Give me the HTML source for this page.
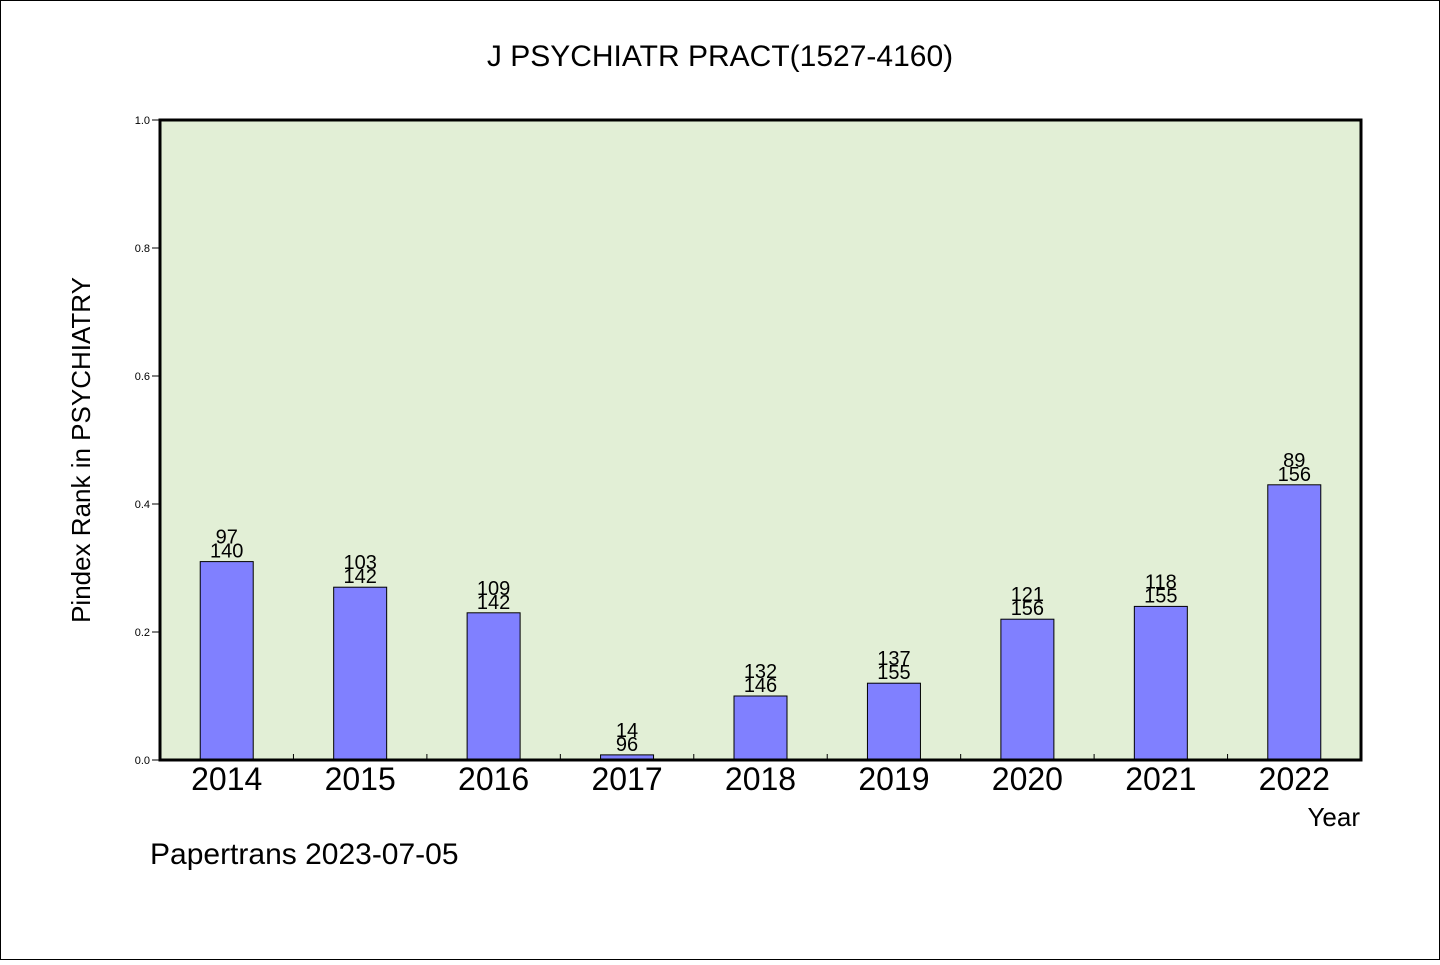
<!DOCTYPE html>
<html><head><meta charset="utf-8"><style>
body{margin:0;background:#fff}
svg text{font-family:"WenQuanYi Zen Hei","Liberation Sans",sans-serif;fill:#000}
</style></head><body>
<svg id="chart" width="1440" height="960" xmlns="http://www.w3.org/2000/svg">
<rect x="0.5" y="0.5" width="1439" height="959" fill="#fff" stroke="#000"/>
<text x="720" y="66" font-size="30" text-anchor="middle">J PSYCHIATR PRACT(1527-4160)</text>
<rect x="160" y="120" width="1201" height="640" fill="#e2efd6"/>
<g id="ticks"></g>
<g id="bars"></g>
<rect x="160" y="120" width="1201" height="640" fill="none" stroke="#000" stroke-width="3"/>
<text transform="translate(90,450) rotate(-90)" font-size="26" text-anchor="middle">Pindex Rank in PSYCHIATRY</text>
<text x="1360" y="826" font-size="26" text-anchor="end">Year</text>
<text x="150" y="864" font-size="30">Papertrans 2023-07-05</text>
</svg>
<script>
const categories=["2014","2015","2016","2017","2018","2019","2020","2021","2022"];
const values=[0.31,0.27,0.23,0.008,0.10,0.12,0.22,0.24,0.43];
const topLabels=["97","103","109","14","132","137","121","118","89"];
const bottomLabels=["140","142","142","96","146","155","156","155","156"];
const yTicks=[0,0.2,0.4,0.6,0.8,1.0];
const yTickLabels=["0.0","0.2","0.4","0.6","0.8","1.0"];
const NS="http://www.w3.org/2000/svg";
const X0=160,X1=1361,Y0=760,Y1=120;
const band=(X1-X0)/categories.length;
const xc=i=>X0+band*(i+0.5);
const y=v=>Y0-(Y0-Y1)*v;
function mk(t,a){const e=document.createElementNS(NS,t);for(const k in a)e.setAttribute(k,a[k]);return e;}
const tg=document.getElementById('ticks'),bg=document.getElementById('bars');
yTicks.forEach((v,i)=>{
 const l=mk('line',{x1:152,x2:160,y1:y(v),y2:y(v),stroke:'#000'});
 
 
 tg.appendChild(l);
 const t=mk('text',{x:150,y:y(v)+4,'font-size':11,'text-anchor':'end'});
 t.textContent=yTickLabels[i];
 
 
 tg.appendChild(t);
});
for(let i=1;i<categories.length;i++){
 const l=mk('line',{x1:X0+band*i,x2:X0+band*i,y1:Y0,y2:Y0-6,stroke:'#000'});
 
 
 tg.appendChild(l);
}
categories.forEach((c,i)=>{
 const w=53,top=y(values[i]);
 const r=mk('rect',{x:xc(i)-w/2,y:top,width:w,height:Y0-top,fill:'#8080ff',stroke:'#000','stroke-width':1});
 
 
 bg.appendChild(r);
 const t1=mk('text',{x:xc(i),y:top-18,'font-size':20,'text-anchor':'middle'});
 t1.textContent=topLabels[i];
 
 
 bg.appendChild(t1);
 const t2=mk('text',{x:xc(i),y:top-4,'font-size':20,'text-anchor':'middle'});
 t2.textContent=bottomLabels[i];
 
 
 bg.appendChild(t2);
 const t=mk('text',{x:xc(i),y:790,'font-size':32,'text-anchor':'middle'});
 t.textContent=c;
 
 
 bg.appendChild(t);
});
</script>
</body></html>
